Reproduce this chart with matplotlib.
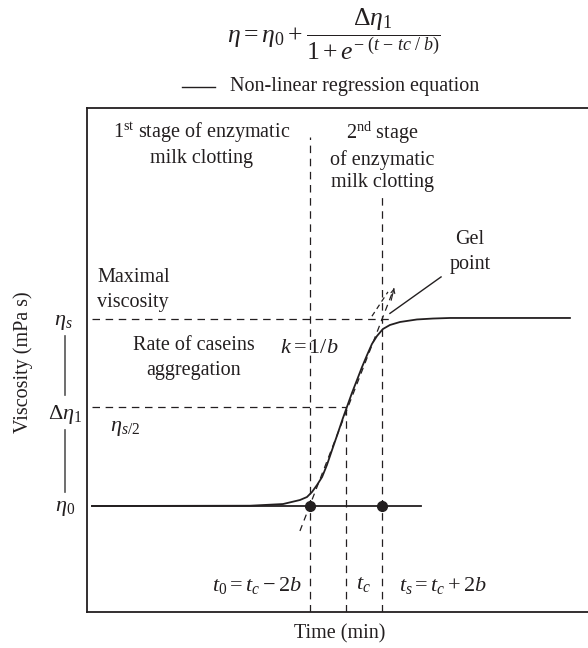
import matplotlib
matplotlib.use("Agg")
import matplotlib.pyplot as plt
from matplotlib.lines import Line2D

plt.rcParams['font.family'] = ['Liberation Serif', 'DejaVu Serif']
plt.rcParams['mathtext.fontset'] = 'custom'
plt.rcParams['mathtext.rm'] = 'Liberation Serif'
plt.rcParams['mathtext.it'] = 'Liberation Serif:italic'
plt.rcParams['mathtext.bf'] = 'Liberation Serif:bold'

# ---- data (schematic units) ----
curve_t = [0.88, 9.66, 11.49, 12.43, 12.82, 13.10, 13.38, 13.66, 13.93, 14.27, 14.54,
           14.82, 15.04, 15.32, 15.60, 15.88, 16.16, 16.43, 16.71, 17.04, 17.43, 17.99,
           18.93, 19.82, 20.77, 27.43]
curve_eta = [1.00, 1.003, 1.021, 1.064, 1.096, 1.150, 1.225, 1.310, 1.439, 1.631, 1.781,
             1.941, 2.059, 2.209, 2.348, 2.487, 2.615, 2.733, 2.818, 2.893, 2.936, 2.968,
             2.995, 3.005, 3.011, 3.011]
tangent_t = [12.43, 17.66]
tangent_eta = [0.733, 3.33]
tangent2_t = [16.43, 17.32]
tangent2_eta = [3.03, 3.29]
gel_ptr_t = [17.43, 20.27]
gel_ptr_eta = [3.06, 3.45]

t_start = 0.88
t0, tc, ts = 13.0, 15.0, 17.0
eta0, eta_half, eta_s = 1.0, 2.06, 3.0
baseline_end = 19.16
eta_s_line_end = 17.54
t0_line_top = 4.95
ts_line_top = 4.33

W, H = 588, 648
fig = plt.figure(figsize=(W / 100, H / 100), dpi=100)

def P(x, y):
    return (x / W, 1 - y / H)

ax = fig.add_axes([87 / W, (H - 612) / H, (600 - 87) / W, (612 - 108) / H])
ax.set_xlim(0.6, 29.1)
ax.set_ylim(-0.1337, 5.2567)
ax.set_xticks([])
ax.set_yticks([])
for s in ['left', 'top', 'bottom']:
    ax.spines[s].set_linewidth(1.3)
    ax.spines[s].set_color('#231f20')
ax.spines['right'].set_visible(False)

ink = '#231f20'
dash = dict(color=ink, lw=0.9, dashes=(6, 4.5))

# guide lines
ax.plot([t_start, eta_s_line_end], [eta_s, eta_s], **dash)
ax.plot([t_start, tc], [eta_half, eta_half], **dash)
ax.plot([t0, t0], [ax.get_ylim()[0], t0_line_top], **dash)
ax.plot([ts, ts], [ax.get_ylim()[0], ts_line_top], **dash)
ax.plot([tc, tc], [ax.get_ylim()[0], eta_half], **dash)

# baseline with dots
ax.plot([t_start, baseline_end], [eta0, eta0], color=ink, lw=1.3)
ax.plot([t0, ts], [eta0, eta0], 'o', color=ink, ms=7)

# curve
ax.plot(curve_t, curve_eta, color=ink, lw=1.3)

# tangent
ax.plot(tangent_t, tangent_eta, color=ink, lw=0.9, dashes=(5, 4))
ax.plot(tangent2_t, tangent2_eta, color=ink, lw=0.9, dashes=(4, 3))
ax.annotate('', xy=(tangent_t[1], tangent_eta[1]), xytext=(17.5, 3.2),
            arrowprops=dict(arrowstyle='->', color=ink, lw=0.8, shrinkA=0, shrinkB=0,
                            mutation_scale=7))

# gel point pointer
ax.plot(gel_ptr_t, gel_ptr_eta, color=ink, lw=1.0)

fs = 14.5
def T(x, y, s, ha='center', va='center', size=fs, **kw):
    fig.text(*P(x, y), s, ha=ha, va=va, fontsize=size, color=ink, **kw)

# formula & legend
T(227, 34, r'$\eta = \eta_0 + \dfrac{\Delta\eta_1}{1 + e^{-\;(t\,-\,tc\;/\;b)}}$',
  ha='left', size=18.5)
fig.add_artist(Line2D([182 / W, 215 / W], [1 - 87 / H, 1 - 87 / H], color=ink, lw=1.0))
T(230, 87, 'Non-linear regression equation', ha='left')

# stage texts
T(202, 133, r'1$^{\mathrm{st}}$ stage of enzymatic')
T(202, 158, 'milk clotting')
T(382, 133, r'2$^{\mathrm{nd}}$ stage')
T(382, 160, 'of enzymatic')
T(382, 183, 'milk clotting')
T(470, 240, 'Gel')
T(470, 265, 'point')
T(97, 277, 'Maximal', ha='left')
T(97, 302, 'viscosity', ha='left')
T(194, 345, 'Rate of caseins')
T(194, 370, 'aggregation')
T(280, 348, r'$k = 1/b$', ha='left', size=16)

# left labels
T(63, 322, r'$\eta_s$', size=16)
T(65, 414, r'$\Delta\eta_1$', size=16)
T(65, 508, r'$\eta_0$', size=16)
T(110, 428, r'$\eta_{s/2}$', ha='left', size=16)
for y1, y2 in [(336, 395), (430, 492)]:
    fig.add_artist(Line2D([65 / W, 65 / W], [1 - y1 / H, 1 - y2 / H], color='#555555', lw=1.2))
T(23, 362, 'Viscosity (mPa s)', rotation=90)

# bottom labels
T(257, 585, r'$t_0 = t_c - 2b$', size=16)
T(363, 585, r'$t_c$', size=16)
T(443, 585, r'$t_s = t_c + 2b$', size=16)
T(340, 634, 'Time (min)')

fig.savefig('out.png', dpi=100)
